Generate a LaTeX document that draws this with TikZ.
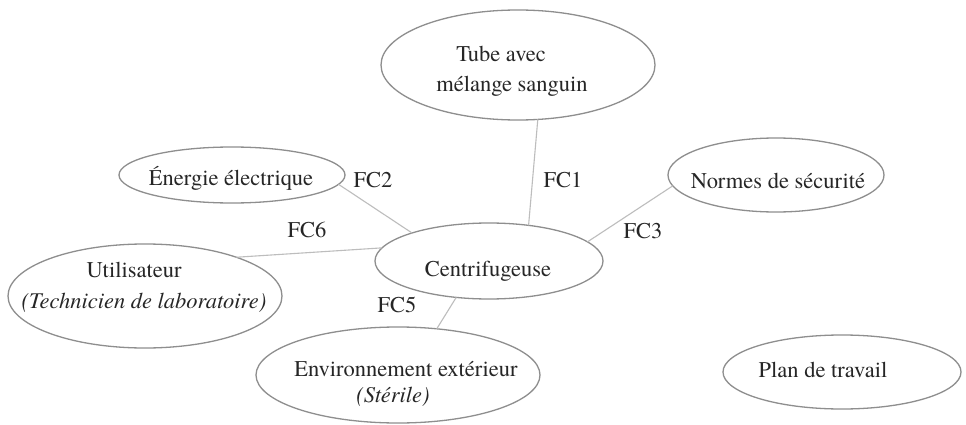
\documentclass[tikz,border=0pt]{standalone}
\usepackage{fontspec}
\setmainfont{texgyretermes}[Extension=.otf,UprightFont=*-regular,ItalicFont=*-italic,BoldFont=*-bold,BoldItalicFont=*-bolditalic]
\usetikzlibrary{shapes.geometric}
\definecolor{txtc}{HTML}{262626}
\definecolor{ovalc}{HTML}{8E8E8E}
\definecolor{linec}{HTML}{BDBDBD}
\begin{document}
\begin{tikzpicture}[x=1pt,y=-1pt,
  oval/.style={ellipse,draw=ovalc,line width=1.3pt,inner sep=0pt,outer sep=0pt},
  txt/.style={anchor=base,inner sep=0pt,text=txtc,font=\fontsize{22.5}{27}\selectfont},
  conn/.style={draw=linec,line width=1.1pt}]
\useasboundingbox[fill=white] (0,0) rectangle (966,425);
% ellipses
\node[oval,minimum width=274pt,minimum height=110pt] (tube) at (518,65) {};
\node[oval,minimum width=226pt,minimum height=56pt] (ener) at (232,175) {};
\node[oval,minimum width=274pt,minimum height=104pt] (util) at (145,296) {};
\node[oval,minimum width=228pt,minimum height=76pt] (cent) at (489,261) {};
\node[oval,minimum width=284pt,minimum height=96pt] (envi) at (398,375) {};
\node[oval,minimum width=216pt,minimum height=74pt] (norm) at (776,175) {};
\node[oval,minimum width=238pt,minimum height=74pt] (plan) at (842,372) {};
% texts
\node[txt] (tube1) at (501,62) {Tube avec};
\node[txt] (tube2) at (512,92) {mélange sanguin};
\node[txt] (enert) at (231,185) {Énergie électrique};
\node[txt] (util1) at (134,277) {Utilisateur};
\node[txt] (util2) at (144,308) {\itshape(Technicien de laboratoire)};
\node[txt] (centt) at (488,276) {Centrifugeuse};
\node[txt] (envi1) at (406,376) {Environnement extérieur};
\node[txt] (envi2) at (393,402) {\itshape(Stérile)};
\node[txt] (normt) at (778,188) {Normes de sécurité};
\node[txt] (plant) at (823,377) {Plan de travail};
% connectors
\draw[conn] (tube.-70) -- (cent.42);
\draw[conn] (ener.-5) -- (cent.160);
\draw[conn] (util.23) -- (cent.173);
\draw[conn] (cent.11) -- (norm.186);
\draw[conn] (cent.228) -- (envi.50);
% labels
\node[txt] (fc1) at (563,187) {FC1};
\node[txt] (fc2) at (373,187) {FC2};
\node[txt] (fc3) at (643,238) {FC3};
\node[txt] (fc5) at (397,312) {FC5};
\node[txt] (fc6) at (307,237) {FC6};
\end{tikzpicture}
\end{document}
